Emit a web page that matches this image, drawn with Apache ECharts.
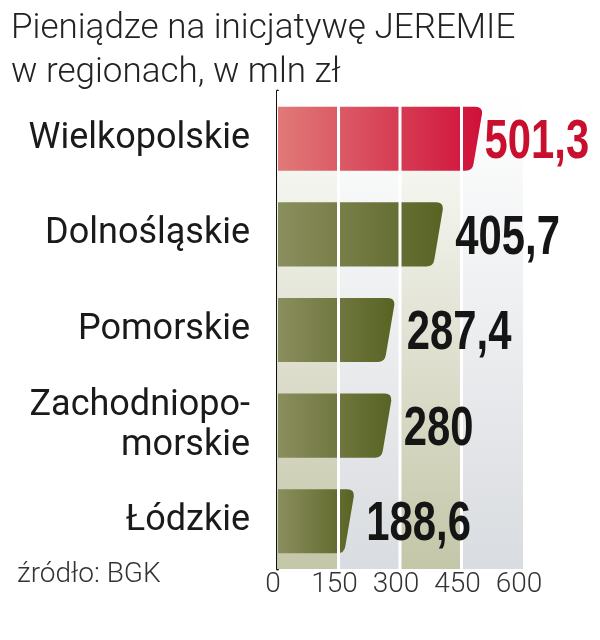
<!DOCTYPE html>
<html>
<head>
<meta charset="utf-8">
<script src="https://cdn.jsdelivr.net/npm/echarts@6/dist/echarts.min.js"></script>
<style>
    html, body { margin: 0; padding: 0; background: #fff; }
    #chart { width: 600px; height: 640px; }
</style>
</head>
<body>
<div id="chart"></div>
<script>
// dane z wykresu
var regiony = ['Wielkopolskie', 'Dolnośląskie', 'Pomorskie', 'Zachodniopo-\nmorskie', 'Łódzkie'];
var kwoty = [501.3, 405.7, 287.4, 280, 188.6];
var etykiety = ['501,3', '405,7', '287,4', '280', '188,6'];
var osX = [0, 150, 300, 450, 600];

// pasy tla i biale linie siatki
var pasy = [];
for (var i = 0; i < osX.length - 1; i++) {
    pasy.push([osX[i], osX[i + 1], i % 2]);
}
var linie = osX.slice(1, osX.length - 1);

var daneSlupki = kwoty.map(function(v, i) { return [v, i]; });

var chart = echarts.init(document.getElementById('chart'));

// ksztalt slupka: zaokraglony, skosny prawy koniec
function slupek(params, api) {
    var idx = api.value(1);
    var end = api.coord([api.value(0), idx]);
    var start = api.coord([0, idx]);
    var h = api.size([0, 1])[1] * 0.67;
    var x0 = start[0] + 1, x1 = end[0];
    var yt = end[1] - h / 2, yb = end[1] + h / 2;
    var r = 7, s = 10;
    var d = 'M' + x0 + ' ' + yt +
        'L' + (x1 - r) + ' ' + yt +
        'Q' + x1 + ' ' + yt + ' ' + (x1 - 0.5) + ' ' + (yt + r) +
        'L' + (x1 - s + 1) + ' ' + (yb - r) +
        'Q' + (x1 - s) + ' ' + yb + ' ' + (x1 - s - r) + ' ' + yb +
        'L' + x0 + ' ' + yb + 'Z';
    var kolory = idx === 0 ? ['#e07a78', '#d0103a'] : ['#8b8e5e', '#586323'];
    return {
        type: 'path',
        shape: { pathData: d },
        style: {
            fill: new echarts.graphic.LinearGradient(0, 0, 1, 0, [
                { offset: 0, color: kolory[0] },
                { offset: 1, color: kolory[1] }
            ])
        }
    };
}

var option = {
    animation: false,
    title: {
        text: 'Pieniądze na inicjatywę JEREMIE\nw regionach, w mln zł',
        left: 6,
        top: 2,
        textStyle: {
            fontFamily: 'Roboto',
            fontWeight: 300,
            fontSize: 35,
            lineHeight: 44,
            color: '#222'
        }
    },
    graphic: [{
        type: 'text',
        left: 17,
        top: 561,
        style: {
            text: 'źródło: BGK',
            font: '300 28px Roboto',
            fill: '#333'
        }
    }],
    grid: { left: 277, right: 77, top: 91, bottom: 71 },
    xAxis: {
        type: 'value',
        min: 0,
        max: 600,
        interval: 150,
        axisLine: { show: false },
        axisTick: { show: false },
        splitLine: { show: false },
        axisLabel: {
            margin: 2,
            padding: [0, 8, 0, 0],
            fontFamily: 'Roboto',
            fontWeight: 300,
            fontSize: 28,
            color: '#333',
            formatter: function(v) { return osX.indexOf(v) >= 0 ? String(v) : ''; }
        }
    },
    yAxis: {
        type: 'category',
        data: regiony,
        inverse: true,
        axisLine: { show: true, lineStyle: { color: '#111', width: 3 } },
        axisTick: { show: false },
        axisLabel: {
            margin: 27,
            fontFamily: 'Roboto',
            fontSize: 36,
            lineHeight: 40,
            color: '#1a1a1a',
            align: 'right'
        }
    },
    series: [{
        // tlo
        type: 'custom',
        z: 1,
        silent: true,
        data: pasy,
        encode: { x: [0, 1] },
        renderItem: function(params, api) {
            var cs = params.coordSys;
            var a = api.coord([api.value(0), 0])[0];
            var b = api.coord([api.value(1), 0])[0];
            var kolor = api.value(2) === 0 ? '#c4c6a8' : '#d9dce0';
            return {
                type: 'rect',
                shape: { x: a, y: cs.y, width: b - a, height: cs.height },
                style: {
                    fill: new echarts.graphic.LinearGradient(0, 0, 0, 1, [
                        { offset: 0, color: '#ffffff' },
                        { offset: 1, color: kolor }
                    ])
                }
            };
        }
    }, {
        // slupki
        type: 'custom',
        z: 2,
        data: daneSlupki,
        encode: { x: 0, y: 1 },
        renderItem: slupek
    }, {
        // biale linie siatki
        type: 'custom',
        z: 3,
        silent: true,
        data: linie,
        encode: { x: 0 },
        renderItem: function(params, api) {
            var cs = params.coordSys;
            var x = api.coord([api.value(0), 0])[0];
            return {
                type: 'line',
                shape: { x1: x, y1: cs.y, x2: x, y2: cs.y + cs.height },
                style: { stroke: '#ffffff', lineWidth: 3 }
            };
        }
    }, {
        // wartosci (waski, pogrubiony krój - sciskamy w poziomie)
        type: 'custom',
        z: 4,
        silent: true,
        data: daneSlupki,
        encode: { x: 0, y: 1 },
        renderItem: function(params, api) {
            var idx = api.value(1);
            var end = api.coord([api.value(0), idx]);
            return {
                type: 'text',
                x: end[0] + (idx === 0 ? 2 : 12),
                y: end[1] + 4,
                scaleX: 0.76,
                style: {
                    text: etykiety[idx],
                    font: 'bold 55px "Liberation Sans", Arial, sans-serif',
                    fill: idx === 0 ? '#c8102e' : '#151515',
                    verticalAlign: 'middle',
                    align: 'left'
                }
            };
        }
    }]
};
chart.setOption(option);
</script>
</body>
</html>
